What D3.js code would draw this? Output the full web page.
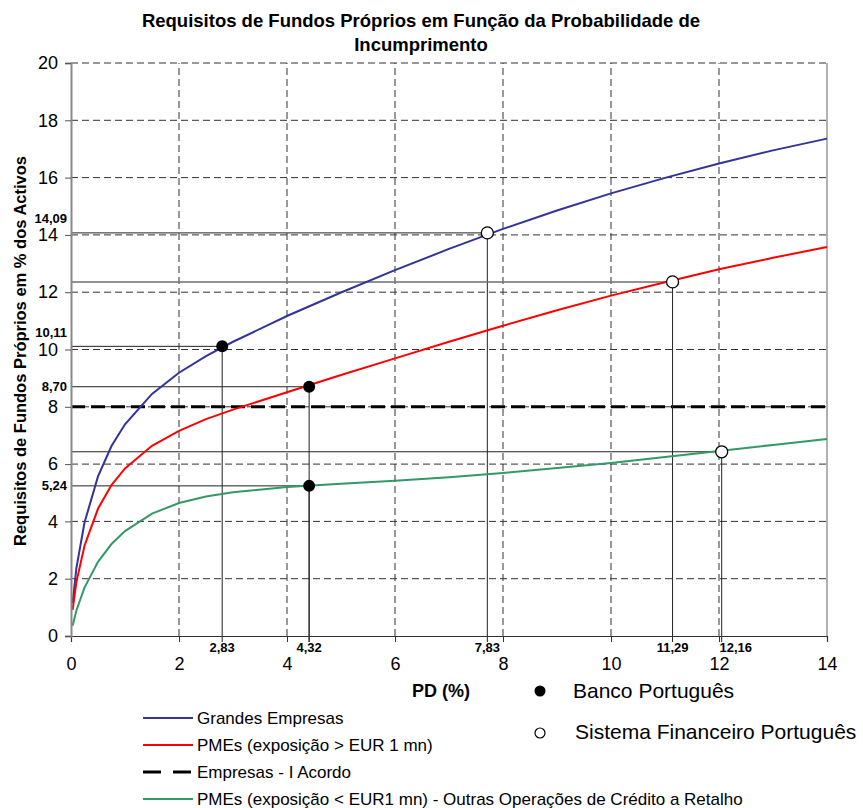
<!DOCTYPE html>
<html><head><meta charset="utf-8">
<script src="https://cdn.jsdelivr.net/npm/d3@7"></script>
<style>body{margin:0;background:#fff}svg{display:block}text{font-family:"Liberation Sans",Arial,sans-serif}</style>
</head><body>
<script>
// ---- data ----
const pd = [0.03,0.1,0.25,0.5,0.75,1,1.5,2,2.5,3,4,5,6,7,8,9,10,11,12,13,14];
const grandes = [1.15,2.37,3.96,5.57,6.63,7.39,8.45,9.19,9.77,10.27,11.17,11.99,12.77,13.51,14.21,14.85,15.45,15.99,16.49,16.95,17.36];
const pmesGrandes = [0.91,1.88,3.15,4.44,5.27,5.85,6.64,7.16,7.57,7.90,8.51,9.11,9.69,10.27,10.83,11.37,11.88,12.35,12.80,13.20,13.58];
const pmesRetalho = [0.36,0.89,1.69,2.59,3.21,3.66,4.27,4.64,4.87,5.02,5.20,5.31,5.42,5.54,5.69,5.86,6.04,6.25,6.46,6.67,6.88];
const acordoPD = [0,14];
const acordo = [8,8];
const xTicks = [0,2,4,6,8,10,12,14];
const yTicks = [0,2,4,6,8,10,12,14,16,18,20];
// markers: Banco Português (filled) / Sistema Financeiro Português (open)
const bancoPD = [2.80,4.41,4.41];
const bancoVal = [10.11,8.70,5.24];
const bancoPDLabel = ["2,83","4,32",null];
const bancoValLabel = ["10,11","8,70","5,24"];
const sistemaPD = [7.71,11.14,12.05];
const sistemaVal = [14.07,12.36,6.43];
const sistemaPDLabel = ["7,83","11,29","12,16"];
const sistemaValLabel = ["14,09",null,null];
const seriesNames = ["Grandes Empresas","PMEs (exposição > EUR 1 mn)","Empresas - I Acordo","PMEs (exposição < EUR1 mn) - Outras Operações de Crédito a Retalho"];
const title = ["Requisitos de Fundos Próprios em Função da Probabilidade de","Incumprimento"];

// ---- drawing ----
const W=863,H=808;
const svg=d3.select("body").append("svg").attr("width",W).attr("height",H);
const x=d3.scaleLinear().domain([0,14]).range([71,827]);
const y=d3.scaleLinear().domain([0,20]).range([636,63]);
const F='"Liberation Sans",Arial,sans-serif';

// title
svg.append("g").selectAll("text").data(title).join("text")
 .attr("x",421).attr("y",(d,i)=>27+i*24).attr("text-anchor","middle")
 .attr("font-size",18.5).attr("font-weight","bold").text(d=>d);

// grid
const grid=svg.append("g").attr("stroke","#333").attr("stroke-width",1).attr("stroke-dasharray","7,4");
grid.selectAll("line.h").data(yTicks.filter(d=>d>0)).join("line")
 .attr("x1",x(0)).attr("x2",x(14)).attr("y1",d=>y(d)).attr("y2",d=>y(d));
grid.selectAll("line.v").data(xTicks.filter(d=>d>0&&d<14)).join("line").attr("class","v")
 .attr("y1",y(0)).attr("y2",y(20)).attr("x1",d=>x(d)).attr("x2",d=>x(d));

// right border
svg.append("line").attr("x1",x(14)).attr("x2",x(14)).attr("y1",y(0)).attr("y2",y(20)).attr("stroke","#999").attr("stroke-width",1.5);

// Basel I line
const line=d3.line().x(d=>x(d[0])).y(d=>y(d[1]));
svg.append("path").datum(acordoPD.map((p,i)=>[p,acordo[i]])).attr("d",line)
 .attr("fill","none").attr("stroke","#000").attr("stroke-width",3).attr("stroke-dasharray","14,6");

// reference lines
const refs=[];
bancoPD.forEach((p,i)=>refs.push({p,v:bancoVal[i]}));
sistemaPD.forEach((p,i)=>refs.push({p,v:sistemaVal[i]}));
const rl=svg.append("g");
refs.forEach((r,i)=>{
  const c = (r.v>12&&r.v<13)?"#6e6e6e":"#222";
  const w = (r.v>12&&r.v<13)?1.5:1;
  rl.append("line").attr("x1",x(0)).attr("x2",x(r.p)).attr("y1",y(r.v)).attr("y2",y(r.v)).attr("stroke",c).attr("stroke-width",w);
  rl.append("line").attr("x1",x(r.p)).attr("x2",x(r.p)).attr("y1",y(r.v)).attr("y2",y(0)+6).attr("stroke","#222").attr("stroke-width",1);
});

// curves
const series=[[grandes,"#333399"],[pmesGrandes,"#ff0000"],[pmesRetalho,"#339966"]];
series.forEach(([vals,col])=>{
  svg.append("path").datum(pd.map((p,i)=>[p,vals[i]])).attr("d",line)
   .attr("fill","none").attr("stroke",col).attr("stroke-width",2);
});

// axes
const xAxis=svg.append("g").attr("transform",`translate(0,${y(0)})`)
 .call(d3.axisBottom(x).tickValues(xTicks).tickSize(6).tickFormat(d3.format("d")));
xAxis.select(".domain").attr("stroke","#333").attr("stroke-width",1.2);
xAxis.selectAll(".tick line").attr("stroke","#333");
xAxis.selectAll(".tick text").attr("font-family",F).attr("font-size",18).attr("fill","#000").attr("y",21);
const yAxis=svg.append("g").attr("transform",`translate(${x(0)},0)`)
 .call(d3.axisLeft(y).tickValues(yTicks).tickSize(6).tickFormat(d3.format("d")));
yAxis.select(".domain").attr("stroke","#888").attr("stroke-width",2);
yAxis.selectAll(".tick line").attr("stroke","#555");
yAxis.selectAll(".tick text").attr("font-family",F).attr("font-size",18).attr("fill","#000").attr("x",-13);

// markers
svg.append("g").selectAll("circle").data(bancoPD).join("circle")
 .attr("cx",d=>x(d)).attr("cy",(d,i)=>y(bancoVal[i])).attr("r",6).attr("fill","#000");
svg.append("g").selectAll("circle").data(sistemaPD).join("circle")
 .attr("cx",d=>x(d)).attr("cy",(d,i)=>y(sistemaVal[i])).attr("r",6).attr("fill","#fff").attr("stroke","#000").attr("stroke-width",1.3);

// special labels
const xl=[];bancoPD.forEach((p,i)=>{if(bancoPDLabel[i])xl.push({p,t:bancoPDLabel[i]})});
sistemaPD.forEach((p,i)=>{if(sistemaPDLabel[i])xl.push({p,t:sistemaPDLabel[i]})});
svg.append("g").selectAll("text").data(xl).join("text")
 .attr("x",d=>x(d.p)+(d.p>11.8?14:0)).attr("y",652).attr("text-anchor","middle")
 .attr("font-size",13).attr("font-weight","bold").text(d=>d.t);
const yl=[];bancoVal.forEach((v,i)=>{if(bancoValLabel[i])yl.push({v,t:bancoValLabel[i]})});
sistemaVal.forEach((v,i)=>{if(sistemaValLabel[i])yl.push({v,t:sistemaValLabel[i]})});
svg.append("g").selectAll("text").data(yl).join("text")
 .attr("x",67).attr("y",d=>y(d.v)-(Math.abs(d.v-Math.round(d.v/2)*2)<0.3?14:0)).attr("dy","0.35em").attr("text-anchor","end")
 .attr("font-size",13).attr("font-weight","bold").text(d=>d.t);

// axis titles
svg.append("text").attr("x",441).attr("y",697).attr("text-anchor","middle").attr("font-size",18).attr("font-weight","bold").text("PD (%)");
svg.append("text").attr("transform","translate(26,351) rotate(-90)").attr("text-anchor","middle")
 .attr("font-size",16.5).attr("font-weight","bold").text("Requisitos de Fundos Próprios em % dos Activos");

// legend
const lg=svg.append("g");
const legStyle=[["#333399",2,null],["#ff0000",2,null],["#000",3,"18,12"],["#339966",2,null]];
seriesNames.forEach((n,i)=>{
  const yy=718+i*27;
  const l=lg.append("line").attr("x1",143).attr("x2",193).attr("y1",yy).attr("y2",yy).attr("stroke",legStyle[i][0]).attr("stroke-width",legStyle[i][1]);
  if(legStyle[i][2]) l.attr("stroke-dasharray",legStyle[i][2]);
  lg.append("text").attr("x",197).attr("y",yy+6).attr("font-size",17).text(n);
});
lg.append("circle").attr("cx",540).attr("cy",691).attr("r",5.5).attr("fill","#000");
lg.append("text").attr("x",573).attr("y",698).attr("font-size",21).text("Banco Português");
lg.append("circle").attr("cx",540).attr("cy",733).attr("r",5).attr("fill","#fff").attr("stroke","#000").attr("stroke-width",1.2);
lg.append("text").attr("x",575).attr("y",739).attr("font-size",21).text("Sistema Financeiro Português");
</script>
</body></html>
